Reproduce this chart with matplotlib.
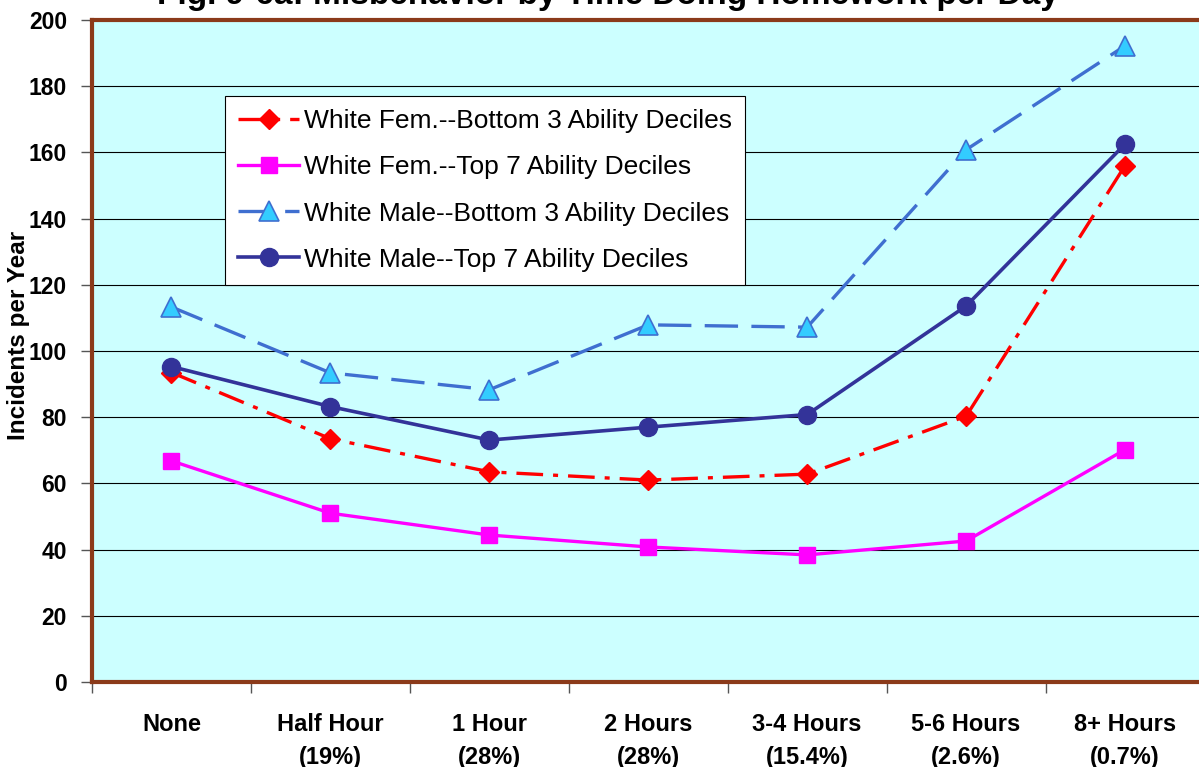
import matplotlib
matplotlib.use("Agg")
import matplotlib.pyplot as plt
from matplotlib.ticker import FixedLocator, NullFormatter

plt.rcParams['font.family'] = ['Liberation Sans', 'DejaVu Sans']

categories = ["None", "Half Hour\n(19%)", "1 Hour\n(28%)", "2 Hours\n(28%)",
              "3-4 Hours\n(15.4%)", "5-6 Hours\n(2.6%)", "8+ Hours\n(0.7%)"]
fem_bottom3 = [93.5, 73.5, 63.5, 61, 62.8, 80.3, 156]
fem_top7 = [66.8, 51, 44.4, 40.8, 38.4, 42.6, 70.2]
male_bottom3 = [113.3, 93.4, 88.3, 107.9, 107.2, 160.8, 192.2]
male_top7 = [95.3, 83.2, 73.1, 77, 80.8, 113.6, 162.5]
yticks = list(range(0, 201, 20))
title = "Fig. 9-6a: Misbehavior by Time Doing Homework per Day"

W, H = 1199, 767
fig = plt.figure(figsize=(W / 100, H / 100), dpi=100)
fig.patch.set_facecolor('white')
left, right, top, bottom = 92, 1204.5, 20, 682
ax = fig.add_axes([left / W, (H - bottom) / H, (right - left) / W, (bottom - top) / H])
ax.set_facecolor('#CCFFFF')

x = list(range(len(categories)))
ax.plot(x, fem_bottom3, color='#FF0000', lw=2.4, dashes=(8, 3, 1.5, 3),
        marker='D', ms=10, mfc='#FF0000', mec='#FF0000',
        label='White Fem.--Bottom 3 Ability Deciles', zorder=4)
ax.plot(x, fem_top7, color='#FF00FF', lw=2.4, ls='-',
        marker='s', ms=12, mfc='#FF00FF', mec='#FF00FF',
        label='White Fem.--Top 7 Ability Deciles', zorder=4)
ax.plot(x, male_bottom3, color='#3F6FD0', lw=2.4, dashes=(10, 4),
        marker='^', ms=15, mfc='#33CCFF', mec='#3F6FD0', mew=1.2,
        label='White Male--Bottom 3 Ability Deciles', zorder=4)
ax.plot(x, male_top7, color='#333399', lw=2.6, ls='-',
        marker='o', ms=13, mfc='#333399', mec='#333399',
        label='White Male--Top 7 Ability Deciles', zorder=4)

ax.set_xlim(-0.5, len(categories) - 0.5)
ax.set_ylim(0, 200)
ax.set_yticks(yticks)
ax.set_yticklabels([str(v) for v in yticks], fontsize=16.5, fontweight='bold')
ax.yaxis.grid(True, color='black', lw=0.8)
ax.set_axisbelow(True)

ax.set_xticks(x)
ax.set_xticklabels(categories, fontsize=17, fontweight='bold', va='top', linespacing=1.55)
ax.tick_params(axis='x', which='major', length=0, pad=22.5)
ax.xaxis.set_minor_locator(FixedLocator([i - 0.5 for i in range(len(categories) + 1)]))
ax.xaxis.set_minor_formatter(NullFormatter())
ax.tick_params(axis='x', which='minor', length=8, width=1, color='#555555', direction='out')
ax.tick_params(axis='y', length=8, width=1, color='#555555', direction='out', pad=10)

for s in ax.spines.values():
    s.set_color('#8B3A1A')
    s.set_linewidth(3)

ax.set_ylabel('Incidents per Year', fontsize=17.5, fontweight='bold', va='center')
ax.yaxis.set_label_coords(-(left - 18) / (right - left), (bottom - 335) / (bottom - top))

leg = ax.legend(loc='upper left', bbox_to_anchor=((225 - left) / (right - left), (bottom - 96) / (bottom - top)),
                borderaxespad=0, fancybox=False, frameon=True, fontsize=19,
                handlelength=2.3, handletextpad=0.2, labelspacing=0.84, borderpad=0.5)
leg.get_frame().set_edgecolor('black')
leg.get_frame().set_linewidth(0.8)
leg.get_frame().set_facecolor('white')
leg.get_frame().set_alpha(1)

fig.text(608 / W, 1 - 4 / H, title, ha='center', va='baseline', fontsize=24, fontweight='bold')

fig.savefig('out.png', dpi=100)
